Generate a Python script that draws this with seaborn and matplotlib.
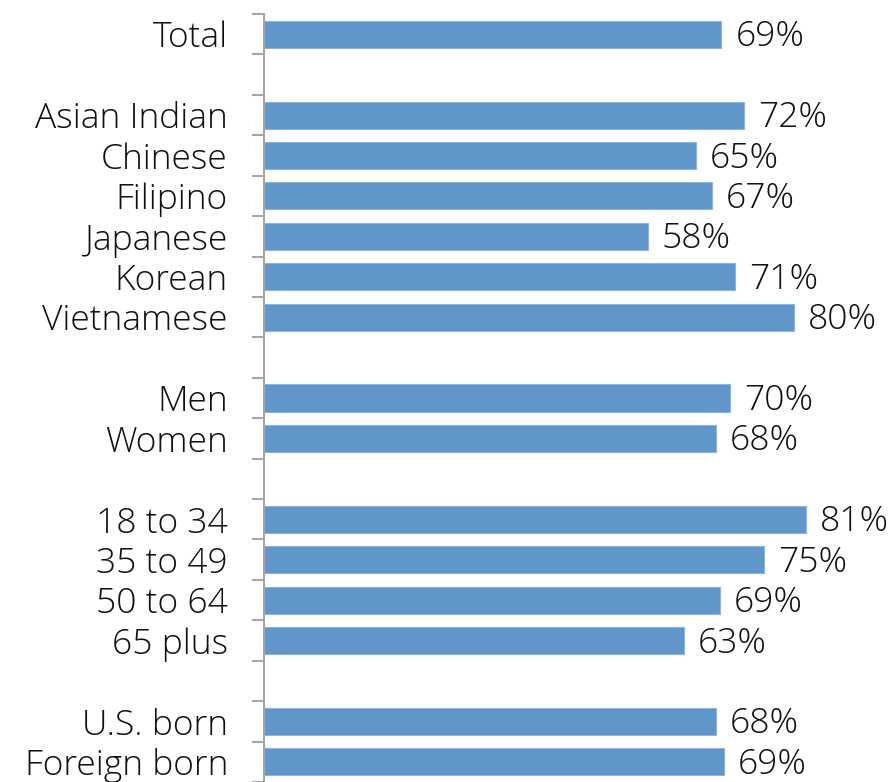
import matplotlib
matplotlib.use("Agg")
import matplotlib.pyplot as plt
import seaborn as sns
import pandas as pd
import numpy as np

# Data
categories = ["Total", "Asian Indian", "Chinese", "Filipino", "Japanese", "Korean",
              "Vietnamese", "Men", "Women", "18 to 34", "35 to 49", "50 to 64",
              "65 plus", "U.S. born", "Foreign born"]
values = [68.9, 72.3, 65.0, 67.4, 57.8, 71.0, 79.8, 70.2, 68.0, 81.6, 75.3, 68.6,
          63.2, 68.0, 69.3]
value_labels = ["69%", "72%", "65%", "67%", "58%", "71%", "80%", "70%", "68%",
                "81%", "75%", "69%", "63%", "68%", "69%"]
# display order with blank spacer rows between groups
row_order = ["Total", " ", "Asian Indian", "Chinese", "Filipino", "Japanese", "Korean",
             "Vietnamese", "  ", "Men", "Women", "   ", "18 to 34", "35 to 49",
             "50 to 64", "65 plus", "    ", "U.S. born", "Foreign born"]

df = pd.DataFrame({"category": categories, "value": values})

sns.set_style("white")
plt.rcParams["font.family"] = ["Open Sans", "DejaVu Sans"]
FW = "light"
FS = 25.5

W, H = 890, 782
fig = plt.figure(figsize=(W / 100, H / 100), dpi=100)
left_px, top_px = 264, 14
ax = fig.add_axes([left_px / W, 0, (W - left_px) / W, (H - top_px) / H])

bar_color = "#6096c9"
sns.barplot(data=df, x="value", y="category", order=row_order, orient="h",
            color=bar_color, saturation=1, width=0.67, errorbar=None,
            edgecolor="#8cb4dc", linewidth=0.8, ax=ax)

row_h_px = 40.5
n_rows_visible = (H - top_px) / row_h_px
ax.set_ylim(-0.5 + n_rows_visible, -0.5)
ax.set_xlim(0, (W - left_px) / 6.64)

# value labels
for cat, val, lab in zip(categories, values, value_labels):
    yi = row_order.index(cat)
    ax.annotate(lab, xy=(val, yi), xytext=(10, -2), textcoords="offset points",
                va="center", ha="left", fontsize=FS, fontweight=FW, color="#111111")

# axis styling: ticks at category boundaries, labels at centers
ax.set_xlabel("")
ax.set_ylabel("")
ax.set_xticks([])
ax.set_yticks(np.arange(len(row_order) + 1) - 0.5)
ax.set_yticklabels([])
ax.set_yticks(np.arange(len(row_order)), minor=True)
ax.set_yticklabels(row_order, minor=True, fontsize=FS, fontweight=FW, color="#111111")
ax.tick_params(axis="y", which="major", length=8.5, width=1.5, color="#a6a6a6",
               direction="out", left=True)
ax.tick_params(axis="y", which="minor", length=0, pad=26)
for s in ["top", "right", "bottom"]:
    ax.spines[s].set_visible(False)
ax.spines["left"].set_color("#a6a6a6")
ax.spines["left"].set_linewidth(1.5)
ax.set_facecolor("white")
fig.patch.set_facecolor("white")

fig.savefig("out.png", dpi=100)
